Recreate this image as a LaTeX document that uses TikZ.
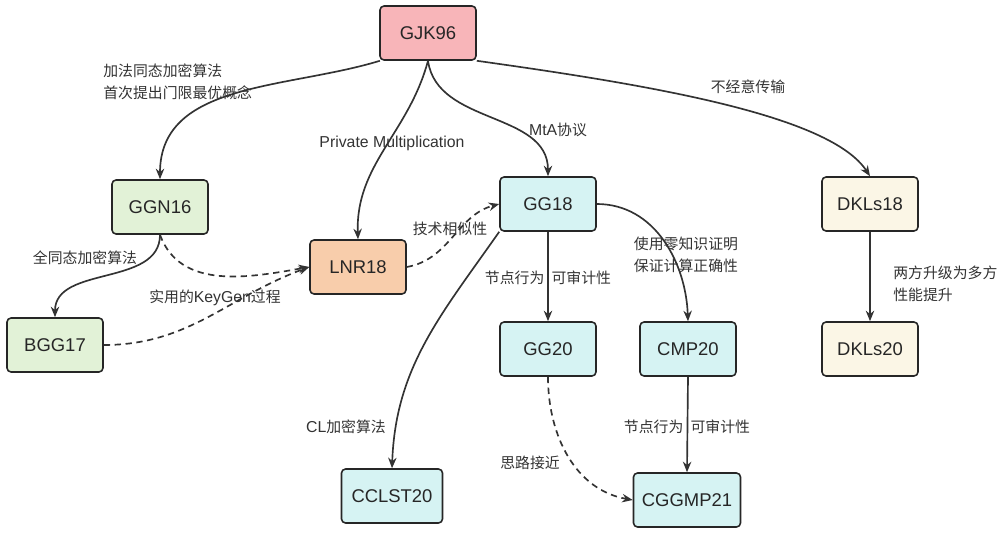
\documentclass[tikz,border=0pt]{standalone}
\usepackage{fontspec}
\setmainfont{Liberation Sans}
\newfontfamily\cjk[Scale=0.94]{Noto Sans CJK SC}
\newcommand{\zh}[1]{{\cjk #1}}
\usetikzlibrary{arrows.meta}

\definecolor{linegray}{HTML}{333333}
\definecolor{gjkpink}{HTML}{F8B5B9}
\definecolor{ggngreen}{HTML}{E2F2D7}
\definecolor{lnrpeach}{HTML}{F8CDAB}
\definecolor{ggcyan}{HTML}{D6F3F3}
\definecolor{dklcream}{HTML}{FBF6E6}

\begin{document}
\begin{tikzpicture}[
		x=0.02cm, y=0.02cm,
		>={Stealth[length=6pt,width=4.8pt]},
		box/.style={draw=black!85,line width=0.9pt,rounded corners=2.3pt,
			minimum width=1.92cm,minimum height=1.08cm,inner sep=0pt,
			font=\fontsize{10.5}{13}\selectfont,text=black!85},
		link/.style={->,linegray,line width=0.95pt},
		hint/.style={link,dash pattern=on 3.6pt off 2.6pt},
		note/.style={font=\fontsize{9}{12.5}\selectfont,text=black!80,inner sep=0pt},
	]
	\useasboundingbox (0,0) rectangle (1005,-534);

	% ---------- nodes ----------
	\node[box,fill=gjkpink] (gjk) at (428,-33) {GJK96};
	\node[box,fill=ggngreen] (ggn) at (160,-207) {GGN16};
	\node[box,fill=ggngreen] (bgg) at (55,-345) {BGG17};
	\node[box,fill=lnrpeach] (lnr) at (358,-267) {LNR18};
	\node[box,fill=ggcyan] (gg18) at (548,-204) {GG18};
	\node[box,fill=ggcyan] (gg20) at (548,-349) {GG20};
	\node[box,fill=ggcyan] (cmp) at (688,-349) {CMP20};
	\node[box,fill=ggcyan,minimum width=2.02cm] (cclst) at (392,-496) {CCLST20};
	\node[box,fill=ggcyan,minimum width=2.14cm] (cggmp) at (687,-500) {CGGMP21};
	\node[box,fill=dklcream] (dkls18) at (870,-204) {DKLs18};
	\node[box,fill=dklcream] (dkls20) at (870,-349) {DKLs20};

	% ---------- edges from GJK96 ----------
	\draw[link] (gjk.-150) to[out=197,in=90] (ggn.north);
	\draw[link] (gjk.south) to[out=255,in=92] (lnr.north);
	\draw[link] (gjk.south) to[out=-82,in=90] (gg18.north);
	\draw[link] (gjk.south east) .. controls (650,-85) and (830,-115) .. (dkls18.north);

	% ---------- left branch ----------
	\draw[link] (ggn.south) to[out=-90,in=90] (bgg.north);
	\draw[hint] (ggn.south) to[out=-70,in=190] (lnr.west);
	\draw[hint] (bgg.east) to[out=0,in=200] (lnr.west);
	\draw[hint] (lnr.east) to[out=10,in=195] (gg18.west);

	% ---------- GG18 branch ----------
	\draw[link] (gg18.south) -- (gg20.north);
	\draw[link] (gg18.east) to[out=0,in=92] (cmp.north);
	\draw[link] (gg18.south west) to[out=235,in=88] (cclst.north);
	\draw[hint] (gg20.south) to[out=-90,in=170] (cggmp.west);
	\draw[link] (cmp.south) -- (cggmp.north);

	% ---------- DKLs branch ----------
	\draw[link] (dkls18.south) -- (dkls20.north);

	% ---------- labels ----------
	\node[note,anchor=west,align=left] (l-add) at (103,-82) {\zh{加法同态加密算法}\\\zh{首次提出门限最优概念}};
	\node[note] (l-pm) at (392,-143) {Private Multiplication};
	\node[note] (l-mta) at (558,-130) {MtA\zh{协议}};
	\node[note] (l-ot) at (748,-87) {\zh{不经意传输}};
	\node[note] (l-fhe) at (85,-258) {\zh{全同态加密算法}};
	\node[note] (l-kg) at (215,-298) {\zh{实用的}KeyGen\zh{过程}};
	\node[note] (l-sim) at (450,-229) {\zh{技术相似性}};
	\node[note] (l-aud1) at (548,-278) {\zh{节点行为}\hspace{0.45em}\zh{可审计性}};
	\node[note,align=left] (l-zk) at (686,-255) {\zh{使用零知识证明}\\\zh{保证计算正确性}};
	\node[note] (l-cl) at (346,-427) {CL\zh{加密算法}};
	\node[note] (l-near) at (530,-463) {\zh{思路接近}};
	\node[note] (l-aud2) at (687,-427) {\zh{节点行为}\hspace{0.45em}\zh{可审计性}};
	\node[note,anchor=west,align=left] (l-dkl) at (893,-284) {\zh{两方升级为多方}\\\zh{性能提升}};

\end{tikzpicture}
\end{document}
